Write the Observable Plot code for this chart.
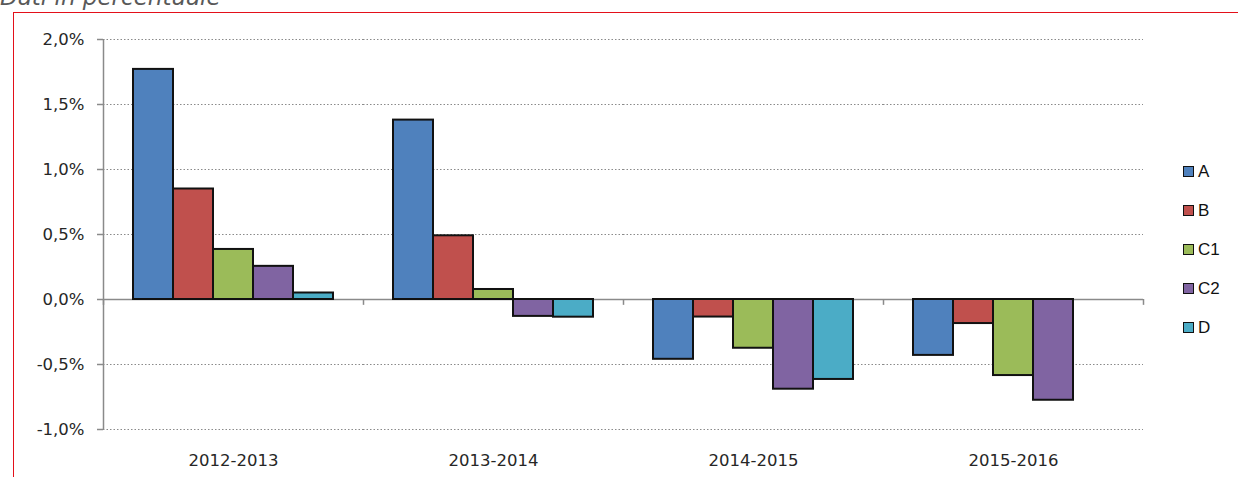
<!DOCTYPE html>
<html>
<head>
<meta charset="utf-8">
<script src="https://cdn.jsdelivr.net/npm/d3@7"></script>
<script src="https://cdn.jsdelivr.net/npm/@observablehq/plot@0.6"></script>
<style>
  html, body { margin: 0; padding: 0; background: #fff; }
  #wrap { position: relative; width: 1238px; height: 477px; overflow: hidden; background: #fff; }
  #title { position: absolute; left: 0px; top: -16px; font-family: "DejaVu Sans", sans-serif; font-style: italic; font-size: 23px; line-height: 27px; color: #595959; white-space: nowrap; }
  #border { position: absolute; left: 13px; top: 12px; width: 1240px; height: 480px; border-left: 1.5px solid #e3101a; border-top: 1.5px solid #e3101a; pointer-events: none; }
  #chart { position: absolute; left: 0; top: 0; }
  #legend { position: absolute; left: 1183px; top: 152px; font-family: "Liberation Sans", Arial, sans-serif; font-size: 17px; color: #111; }
  .row { display: flex; align-items: center; height: 39px; }
  .sw { width: 9px; height: 9px; border: 1.5px solid #111; margin-right: 4px; }
</style>
</head>
<body>
<div id="wrap">
  <div id="title">Dati in percentuale</div>
  <div id="chart"></div>
  <div id="border"></div>
  <div id="legend"></div>
</div>
<script>
const periods = ["2012-2013", "2013-2014", "2014-2015", "2015-2016"];
const seriesNames = ["A", "B", "C1", "C2", "D"];
const seriesColors = ["#4F81BD", "#C0504D", "#9BBB59", "#8064A2", "#4BACC6"];
const valuesA = [1.77, 1.38, -0.46, -0.43];
const valuesB = [0.85, 0.49, -0.135, -0.185];
const valuesC1 = [0.385, 0.077, -0.375, -0.585];
const valuesC2 = [0.255, -0.13, -0.69, -0.775];
const valuesD = [0.05, -0.136, -0.615, 0];
const yTicks = [-1.0, -0.5, 0.0, 0.5, 1.0, 1.5, 2.0];

const seriesValues = [valuesA, valuesB, valuesC1, valuesC2, valuesD];
const data = [];
periods.forEach((p, i) => {
  seriesNames.forEach((s, j) => {
    data.push({period: p, series: s, value: seriesValues[j][i]});
  });
});

const fmt = d => d.toFixed(1).replace(".", ",") + "%";
const gray = "#8a8a8a";

const chart = Plot.plot({
  width: 1238,
  height: 477,
  marginLeft: 103,
  marginRight: 95,
  marginTop: 39,
  marginBottom: 48,
  style: {fontFamily: "DejaVu Sans, sans-serif", fontSize: "16.5px", color: "#262626", background: "transparent"},
  fx: {domain: periods, padding: 0},
  x: {domain: seriesNames, paddingInner: 0, paddingOuter: 0.75, axis: null},
  y: {domain: [-1, 2], axis: null},
  color: {domain: seriesNames, range: seriesColors},
  marks: [
    Plot.gridY(yTicks.filter(d => d !== 0), {stroke: gray, strokeOpacity: 1, strokeWidth: 1, strokeDasharray: "1.5,2"}),
    Plot.ruleY([0], {stroke: gray, strokeWidth: 1.5}),
    Plot.barY(data, {fx: "period", x: "series", y: "value", fill: "series", stroke: "#111", strokeWidth: 2}),
    Plot.ruleX(periods, {fx: d => d, x: () => "A", y1: 0, y2: -0.045, dx: -50, stroke: gray, strokeWidth: 1.5}),
    Plot.ruleX([periods[periods.length - 1]], {fx: d => d, x: () => "D", y1: 0, y2: -0.045, dx: 50, stroke: gray, strokeWidth: 1.5}),
    Plot.ruleX([periods[0]], {fx: d => d, x: () => "A", y1: -1, y2: 2, dx: -50, stroke: gray, strokeWidth: 1.5}),
    Plot.axisY(yTicks, {tickFormat: fmt, tickSize: 6, tickPadding: 13, stroke: gray, strokeWidth: 1.5, label: null}),
    Plot.axisFx({anchor: "bottom", tickSize: 0, tickPadding: 25, label: null})
  ]
});
document.getElementById("chart").appendChild(chart);

const legend = document.getElementById("legend");
seriesNames.forEach((s, i) => {
  const row = document.createElement("div");
  row.className = "row";
  const sw = document.createElement("div");
  sw.className = "sw";
  sw.style.background = seriesColors[i];
  const t = document.createElement("span");
  t.textContent = s;
  row.appendChild(sw);
  row.appendChild(t);
  legend.appendChild(row);
});
</script>
</body>
</html>
